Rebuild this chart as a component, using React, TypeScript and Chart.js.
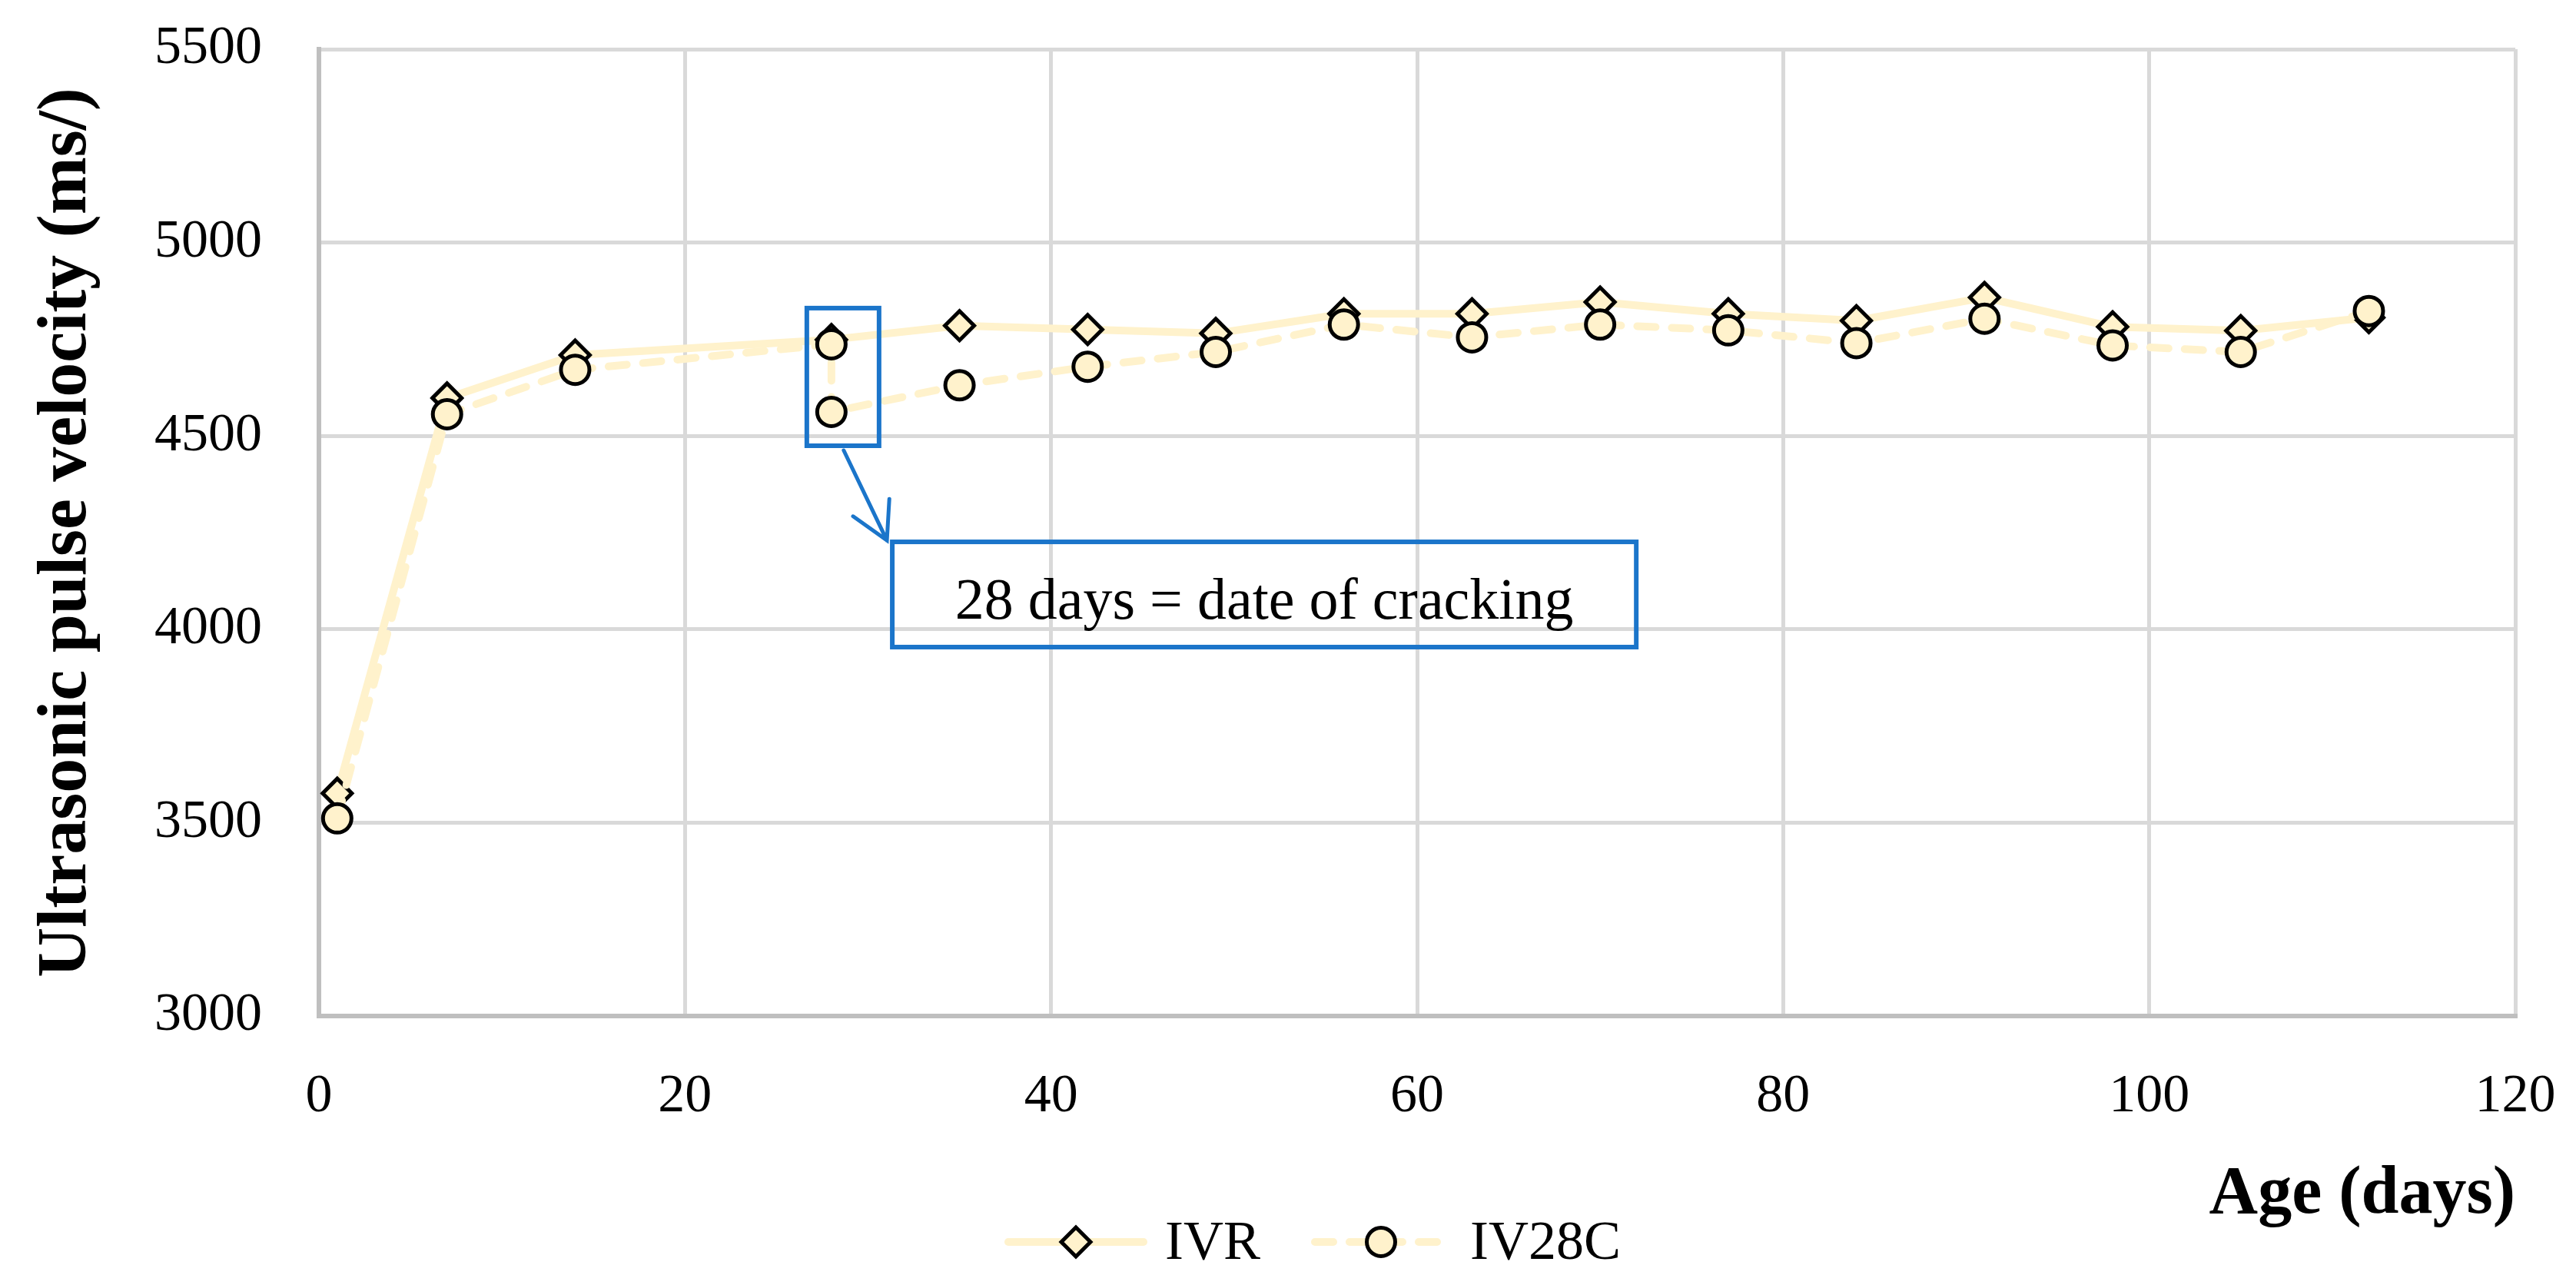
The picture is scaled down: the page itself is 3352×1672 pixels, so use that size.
import React, { useEffect, useRef } from 'react';
import { Chart, registerables } from 'chart.js';

Chart.register(...registerables);

// ---- data ----
const seriesNames = ['IVR', 'IV28C'];
const ivrAges = [1, 7, 14, 28, 35, 42, 49, 56, 63, 70, 77, 84, 91, 98, 105, 112];
const ivrValues = [3576, 4598, 4709, 4749, 4785, 4775, 4765, 4816, 4816, 4846, 4816, 4798, 4858, 4782, 4772, 4806];
const iv28cAges = [1, 7, 14, 28, 28, 35, 42, 49, 56, 63, 70, 77, 84, 91, 98, 105, 112];
const iv28cValues = [3511, 4556, 4671, 4737, 4562, 4631, 4679, 4717, 4788, 4755, 4788, 4773, 4740, 4803, 4734, 4717, 4823];
const xTickValues = [0, 20, 40, 60, 80, 100, 120];
const yTickValues = [3000, 3500, 4000, 4500, 5000, 5500];
const crackAge = 28;
const noteText = '28 days = date of cracking';
// callout box extent, in data units
const noteBox = { fromAge: 31.2, toAge: 72.1, top: 4232, bottom: 3948 };

// ---- styles ----
const LINE = '#FFF2CC';
const BLUE = '#1B75CA';
const GRID = '#D9D9D9';
const AXIS = '#BFBFBF';
const FONT = '"Liberation Serif", "Times New Roman", serif';

const calloutPlugin = {
  id: 'callout',
  afterDraw(chart: any) {
    const { ctx, scales } = chart;
    const xs = scales.x;
    const ys = scales.y;
    const ax = xs.getPixelForValue(crackAge);
    const atCrack: number[] = [];
    ivrAges.forEach((a, i) => { if (a === crackAge) atCrack.push(ivrValues[i]); });
    iv28cAges.forEach((a, i) => { if (a === crackAge) atCrack.push(iv28cValues[i]); });
    const hi = ys.getPixelForValue(Math.max(...atCrack));
    const lo = ys.getPixelForValue(Math.min(...atCrack));
    const sL = ax - 35, sR = ax + 65, sT = hi - 44, sB = lo + 47;

    ctx.save();
    ctx.strokeStyle = BLUE;
    ctx.lineWidth = 6;
    ctx.strokeRect(sL + 3, sT + 3, sR - sL - 6, sB - sT - 6);

    const bL = xs.getPixelForValue(noteBox.fromAge);
    const bR = xs.getPixelForValue(noteBox.toAge);
    const bT = ys.getPixelForValue(noteBox.top);
    const bB = ys.getPixelForValue(noteBox.bottom);
    ctx.strokeRect(bL + 3, bT + 3, bR - bL - 6, bB - bT - 6);

    // arrow
    const x0 = ax + 16, y0 = sB + 3;
    const x1 = bL - 4, y1 = bT + 1;
    ctx.lineWidth = 5;
    ctx.lineCap = 'round';
    ctx.beginPath();
    ctx.moveTo(x0, y0);
    ctx.lineTo(x1, y1);
    const back = Math.atan2(y0 - y1, x0 - x1);
    const half = (29 * Math.PI) / 180;
    const len = 54;
    ctx.moveTo(x1 + len * Math.cos(back - half), y1 + len * Math.sin(back - half));
    ctx.lineTo(x1, y1);
    ctx.lineTo(x1 + len * Math.cos(back + half), y1 + len * Math.sin(back + half));
    ctx.stroke();

    ctx.fillStyle = '#000';
    ctx.font = `76px ${FONT}`;
    ctx.textAlign = 'center';
    ctx.textBaseline = 'alphabetic';
    ctx.fillText(noteText, (bL + bR) / 2, bB - 40);
    ctx.restore();
  },
};

const legendLayout = [
  { lineFrom: 1312, lineTo: 1488, marker: 1400, text: 1516 },
  { lineFrom: 1711, lineTo: 1888, marker: 1797, text: 1913 },
];

const legendPlugin = {
  id: 'customLegend',
  afterDraw(chart: any) {
    const { ctx } = chart;
    const ly = 1616;
    ctx.save();
    chart.data.datasets.forEach((ds: any, i: number) => {
      const L = legendLayout[i];
      ctx.strokeStyle = ds.borderColor;
      ctx.lineWidth = ds.borderWidth;
      ctx.lineCap = ds.borderCapStyle || 'butt';
      ctx.setLineDash(ds.borderDash || []);
      ctx.beginPath();
      ctx.moveTo(L.lineFrom, ly);
      ctx.lineTo(L.lineTo, ly);
      ctx.stroke();
      ctx.setLineDash([]);
      ctx.fillStyle = ds.pointBackgroundColor;
      ctx.strokeStyle = ds.pointBorderColor;
      ctx.lineWidth = ds.pointBorderWidth;
      ctx.lineJoin = 'miter';
      ctx.beginPath();
      const r = ds.pointRadius;
      if (ds.pointStyle === 'rectRot') {
        ctx.moveTo(L.marker - r, ly);
        ctx.lineTo(L.marker, ly - r);
        ctx.lineTo(L.marker + r, ly);
        ctx.lineTo(L.marker, ly + r);
        ctx.closePath();
      } else {
        ctx.arc(L.marker, ly, r, 0, Math.PI * 2);
      }
      ctx.fill();
      ctx.stroke();
      ctx.fillStyle = '#000';
      ctx.font = `72px ${FONT}`;
      ctx.textAlign = 'left';
      ctx.textBaseline = 'alphabetic';
      ctx.fillText(ds.label, L.text, 1638);
    });
    ctx.restore();
  },
};

export default function App() {
  const ref = useRef<HTMLCanvasElement>(null);
  useEffect(() => {
    const canvas = ref.current;
    if (!canvas) return;
    const chart = new Chart(canvas, {
      type: 'line',
      data: {
        datasets: [
          {
            label: seriesNames[0],
            data: ivrAges.map((a, i) => ({ x: a, y: ivrValues[i] })),
            borderColor: LINE,
            backgroundColor: LINE,
            borderWidth: 10,
            borderCapStyle: 'round',
            borderJoinStyle: 'round',
            tension: 0,
            pointStyle: 'rectRot',
            pointRadius: 19,
            pointBorderWidth: 5,
            pointBorderColor: '#000',
            pointBackgroundColor: LINE,
            order: 2,
          } as any,
          {
            label: seriesNames[1],
            data: iv28cAges.map((a, i) => ({ x: a, y: iv28cValues[i] })),
            borderColor: LINE,
            backgroundColor: LINE,
            borderWidth: 10,
            borderDash: [24, 21],
            borderCapStyle: 'round',
            borderJoinStyle: 'round',
            tension: 0,
            pointStyle: 'circle',
            pointRadius: 18.5,
            pointBorderWidth: 5,
            pointBorderColor: '#000',
            pointBackgroundColor: LINE,
            order: 1,
          } as any,
        ],
      },
      options: {
        responsive: false,
        animation: false,
        devicePixelRatio: 1,
        layout: { padding: { left: 0, right: 79, top: 64, bottom: 0 } },
        plugins: { legend: { display: false }, tooltip: { enabled: false } },
        scales: {
          x: {
            type: 'linear',
            min: xTickValues[0],
            max: xTickValues[xTickValues.length - 1],
            afterBuildTicks: (s: any) => { s.ticks = xTickValues.map((v) => ({ value: v })); },
            afterFit: (s: any) => { s.height = 350; s.paddingLeft = 0; s.paddingRight = 0; },
            grid: { color: GRID, lineWidth: 5, drawTicks: false },
            border: { color: AXIS, width: 6 },
            ticks: {
              color: '#000',
              font: { family: FONT, size: 70, lineHeight: 1 },
              padding: 71,
              maxRotation: 0,
              autoSkip: false,
              callback: (v: any) => String(v),
            },
            title: {
              display: true,
              text: 'Age (days)',
              align: 'end',
              color: '#000',
              font: { family: FONT, size: 88, weight: 'bold', lineHeight: 1 },
              padding: { top: 0, bottom: 73 },
            },
          },
          y: {
            type: 'linear',
            min: yTickValues[0],
            max: yTickValues[yTickValues.length - 1],
            afterBuildTicks: (s: any) => { s.ticks = yTickValues.map((v) => ({ value: v })); },
            afterFit: (s: any) => { s.width = 415; s.paddingTop = 0; s.paddingBottom = 0; },
            grid: { color: GRID, lineWidth: 5, drawTicks: false },
            border: { color: AXIS, width: 6 },
            ticks: {
              color: '#000',
              font: { family: FONT, size: 70, lineHeight: 1 },
              padding: 74,
              autoSkip: false,
              callback: (v: any) => String(v),
            },
            title: {
              display: true,
              text: 'Ultrasonic pulse velocity (ms/)',
              color: '#000',
              font: { family: FONT, size: 90, weight: 'bold', lineHeight: 1 },
              padding: { top: 43, bottom: 0 },
            },
          },
        },
      } as any,
      plugins: [calloutPlugin, legendPlugin],
    });
    return () => chart.destroy();
  }, []);
  return (
    <div style={{ position: 'fixed', left: 0, top: 0, width: 3352, height: 1672, background: '#fff' }}>
      <canvas ref={ref} width={3352} height={1672} style={{ display: 'block', width: 3352, height: 1672 }} />
    </div>
  );
}
